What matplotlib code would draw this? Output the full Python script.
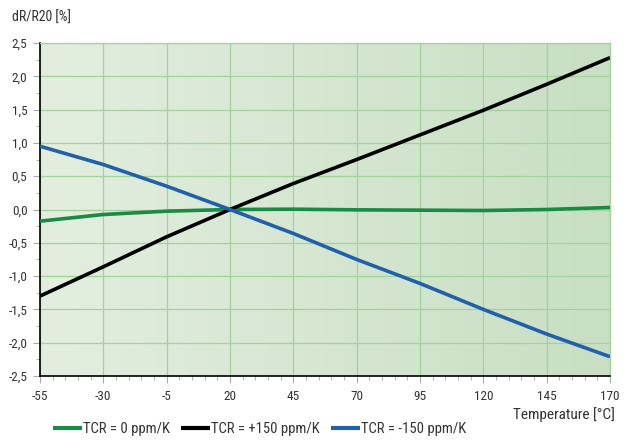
import numpy as np
import matplotlib
matplotlib.use("Agg")
import matplotlib.pyplot as plt
from matplotlib.ticker import FixedLocator, FuncFormatter, MultipleLocator
from matplotlib.colors import LinearSegmentedColormap
from matplotlib import font_manager

avail = {f.name for f in font_manager.fontManager.ttflist}
fams = [f for f in ['Roboto Condensed', 'Liberation Sans Narrow', 'Open Sans Condensed', 'Roboto'] if f in avail]
plt.rcParams['font.family'] = fams + ['DejaVu Sans']

temps = [-55, -30, -5, 20, 45, 70, 95, 120, 145, 170]
tcr_0 = [-0.175, -0.075, -0.025, 0.0, 0.005, -0.005, -0.01, -0.015, 0.0, 0.03]
tcr_p150 = [-1.30, -0.86, -0.41, 0.0, 0.39, 0.75, 1.12, 1.49, 1.88, 2.28]
tcr_m150 = [0.95, 0.675, 0.35, 0.0, -0.36, -0.75, -1.11, -1.50, -1.87, -2.21]
labels = ["TCR = 0 ppm/K", "TCR = +150 ppm/K", "TCR = -150 ppm/K"]
colors = ["#1a8a44", "#000000", "#2160aa"]

fig = plt.figure(figsize=(6.32, 4.41), dpi=100)
ax = fig.add_axes([40/632, 1 - 376/441, 570/632, 333/441])

cmap = LinearSegmentedColormap.from_list("bg", ["#e3eedf", "#c8dfc3"])
grad = np.linspace(0, 1, 256).reshape(1, -1)
ax.imshow(grad, cmap=cmap, aspect='auto', extent=[0, 1, 0, 1],
          transform=ax.transAxes, zorder=0, interpolation='bicubic')

for y, lab, c in zip([tcr_0, tcr_p150, tcr_m150], labels, colors):
    ax.plot(temps, y, color=c, lw=2.6, label=lab, zorder=3, solid_capstyle='butt')

ax.set_xlim(-55, 170)
ax.set_ylim(-2.5, 2.5)
ax.xaxis.set_major_locator(FixedLocator(np.arange(-55, 171, 25)))
ax.xaxis.set_minor_locator(FixedLocator(np.arange(-55, 171, 5)))
ax.yaxis.set_major_locator(MultipleLocator(0.5))
ax.yaxis.set_minor_locator(MultipleLocator(0.25))
ax.yaxis.set_major_formatter(FuncFormatter(lambda v, p: f"{v:.1f}".replace('.', ',')))
ax.xaxis.set_major_formatter(FuncFormatter(lambda v, p: f"{v:.0f}"))

ax.grid(True, which='major', color='#a3d29c', lw=0.9, zorder=1)
ax.set_axisbelow(True)
for s in ['top', 'right']:
    ax.spines[s].set_color('#a3d29c')
    ax.spines[s].set_linewidth(0.9)
for s in ['left', 'bottom']:
    ax.spines[s].set_color('black')
    ax.spines[s].set_linewidth(1.2)
ax.tick_params(which='major', length=5, color='#aaaaaa', width=0.8,
               labelsize=9.5, labelcolor='#333333')
ax.tick_params(which='minor', length=3, color='#aaaaaa', width=0.6)
ax.tick_params(axis='x', pad=5)
ax.tick_params(axis='y', pad=4)

fig.text(12/632, 1 - 18/441, "dR/R20 [%]", fontsize=10, color='#333333', va='center', ha='left')
fig.text(615/632, 1 - 415/441, "Temperature [°C]", fontsize=11, color='#333333', va='center', ha='right')

leg = fig.legend(loc='center left', bbox_to_anchor=(53/632, 1 - 429/441), ncol=3,
                 frameon=False, fontsize=10.5, handlelength=2.0, handletextpad=0.08,
                 columnspacing=0.75, borderaxespad=0, borderpad=0)
for t in leg.get_texts():
    t.set_color('#333333')
for l in leg.get_lines():
    l.set_linewidth(3)

fig.savefig("out.png", dpi=100)
